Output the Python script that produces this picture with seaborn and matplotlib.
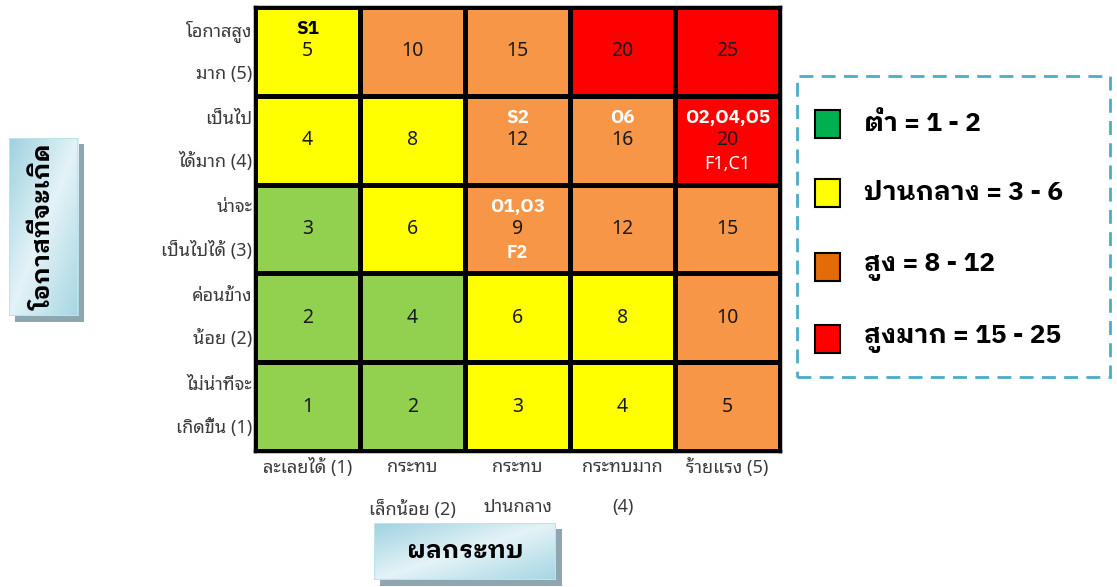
import matplotlib
matplotlib.use("Agg")
import matplotlib.pyplot as plt
from matplotlib import font_manager
from matplotlib.colors import ListedColormap, LinearSegmentedColormap
from matplotlib.patches import Rectangle
import numpy as np
import pandas as pd
import seaborn as sns

# ---------------- data ----------------
likelihood_labels = ["โอกาสสูง\nมาก (5)", "เป็นไป\nได้มาก (4)", "น่าจะ\nเป็นไปได้ (3)",
                     "ค่อนข้าง\nน้อย (2)", "ไม่น่าที่จะ\nเกิดขึ้น (1)"]          # top -> bottom
impact_labels = ["ละเลยได้ (1)", "กระทบ\nเล็กน้อย (2)", "กระทบ\nปานกลาง",
                 "กระทบมาก\n(4)", "ร้ายแรง (5)"]
likelihood_levels = [5, 4, 3, 2, 1]
impact_levels = [1, 2, 3, 4, 5]

# colour class of each cell (0 green, 1 yellow, 2 orange, 3 red), rows top -> bottom
cell_class = [
    [1, 2, 2, 3, 3],
    [1, 1, 2, 2, 3],
    [0, 1, 2, 2, 2],
    [0, 0, 1, 1, 2],
    [0, 0, 1, 1, 2],
]
cell_colors = ["#92D050", "#FFFF00", "#F79646", "#FF0000"]

# risk codes placed in cells: (likelihood, impact) -> text
risk_above = {(5, 1): "S1", (4, 3): "S2", (4, 4): "O6", (4, 5): "O2,O4,O5", (3, 3): "O1,O3"}
risk_above_color = {(5, 1): "black"}
risk_below = {(4, 5): "F1,C1", (3, 3): "F2"}
risk_below_bold = {(3, 3): True, (4, 5): False}

legend_labels = ["ต่ำ = 1 - 2", "ปานกลาง = 3 - 6", "สูง = 8 - 12", "สูงมาก = 15 - 25"]
legend_colors = ["#00B050", "#FFFF00", "#E36C09", "#FF0000"]

y_title = "โอกาสที่จะเกิด"
x_title = "ผลกระทบ"

# ---------------- fonts ----------------
sns.set_theme(style="white")
avail = {}
for f in font_manager.fontManager.ttflist:
    w = f.weight if isinstance(f.weight, int) else 400
    avail.setdefault(f.name, set()).add(w)
main_font = "Noto Sans Thai Looped"
bold_font = main_font
for cand in ["Noto Sans Thai Looped", "Noto Sans Thai", "IBM Plex Sans Thai Looped",
             "IBM Plex Sans Thai", "Anuphan"]:
    if cand in avail and max(avail[cand]) >= 600:
        bold_font = cand
        break
FAM = [main_font, "Noto Sans Thai", "DejaVu Sans"]
BFAM = [bold_font, "Noto Sans Thai", "DejaVu Sans"]
plt.rcParams["font.family"] = FAM

W, H = 1117, 587
fig = plt.figure(figsize=(W / 100, H / 100), dpi=100)

def fx(px):
    return px / W

def fy(py):
    return 1 - py / H

left, right, top, bottom = 255, 780, 7, 451
ax = fig.add_axes([fx(left), fy(bottom), fx(right - left), (bottom - top) / H])

scores = np.array([[l * i for i in impact_levels] for l in likelihood_levels])
df_class = pd.DataFrame(cell_class, index=likelihood_levels, columns=impact_levels)
df_score = pd.DataFrame(scores, index=likelihood_levels, columns=impact_levels)

sns.heatmap(df_class, cmap=ListedColormap(cell_colors), vmin=-0.5, vmax=3.5,
            annot=df_score, fmt="d", annot_kws={"fontsize": 14, "color": "#1a1a1a"},
            linewidths=2.2, linecolor="black", cbar=False, ax=ax, square=False)

for s in ax.spines.values():
    s.set_visible(True)
    s.set_color("black")
    s.set_linewidth(2.5)

ax.set_xticks(np.arange(len(impact_labels)) + 0.5)
ax.set_xticklabels(impact_labels, fontsize=13, color="#3a3a3a", linespacing=2.6, va="top")
ax.set_yticks(np.arange(len(likelihood_labels)) + 0.5)
ax.set_yticklabels(likelihood_labels, fontsize=13, color="#3a3a3a", linespacing=2.6,
                   rotation=0, ha="right", va="center", multialignment="right")
ax.tick_params(axis="x", length=0, pad=5)
ax.tick_params(axis="y", length=0, pad=2)
ax.set_xlabel("")
ax.set_ylabel("")

# risk codes
for (l, i), txt in risk_above.items():
    r = likelihood_levels.index(l)
    c = impact_levels.index(i)
    ax.text(c + 0.5, r + 0.5 - 0.25, txt, ha="center", va="center", fontsize=13.5,
            fontweight="bold", color=risk_above_color.get((l, i), "white"), family=BFAM)
for (l, i), txt in risk_below.items():
    r = likelihood_levels.index(l)
    c = impact_levels.index(i)
    b = risk_below_bold[(l, i)]
    ax.text(c + 0.5, r + 0.5 + 0.27, txt, ha="center", va="center", fontsize=13,
            fontweight="bold" if b else "normal", color="white", family=BFAM if b else FAM)

# ---------------- title boxes ----------------
grad_cmap = LinearSegmentedColormap.from_list("g", ["#9FD2E0", "#E4F3F7", "#A6D6E3"])

def title_box(x0, y0, x1, y1, text, rotation):
    sh = 6
    fig.patches.append(Rectangle((fx(x0 + sh), fy(y1 + sh)), fx(x1 - x0), (y1 - y0) / H,
                                 transform=fig.transFigure, facecolor="#8EA6B0",
                                 edgecolor="none", zorder=-5))
    bax = fig.add_axes([fx(x0), fy(y1), fx(x1 - x0), (y1 - y0) / H])
    bax.set_zorder(5)
    g = np.add.outer(np.linspace(0, 1, 50), np.linspace(0, 1, 50)) / 2
    bax.imshow(g, cmap=grad_cmap, aspect="auto", extent=[0, 1, 0, 1])
    bax.set_xlim(0, 1)
    bax.set_ylim(0, 1)
    bax.axis("off")
    bax.add_patch(Rectangle((0, 0), 1, 1, fill=False, edgecolor="#BEE3EC", lw=1.5))
    bax.text(0.5, 0.5, text, rotation=rotation, ha="center", va="center",
             fontsize=18, fontweight="bold", color="black", family=BFAM)

title_box(9, 138, 78, 316, y_title, 90)
title_box(374, 523, 556, 580, x_title, 0)

# ---------------- legend ----------------
fig.patches.append(Rectangle((fx(797), fy(377)), fx(1110 - 797), (377 - 76) / H,
                             transform=fig.transFigure, fill=False, edgecolor="#4BACC6",
                             lw=2, linestyle=(0, (5, 3)), zorder=1))
item_y = [124, 193, 267, 339]
for yc, lab, col in zip(item_y, legend_labels, legend_colors):
    fig.patches.append(Rectangle((fx(815), fy(yc + 14)), fx(25), 28 / H,
                                 transform=fig.transFigure, facecolor=col,
                                 edgecolor="black", lw=1.5, zorder=2))
    fig.text(fx(864), fy(yc), lab, ha="left", va="center", fontsize=19,
             fontweight="bold", color="black", family=BFAM)

fig.savefig("out.png", dpi=100)
